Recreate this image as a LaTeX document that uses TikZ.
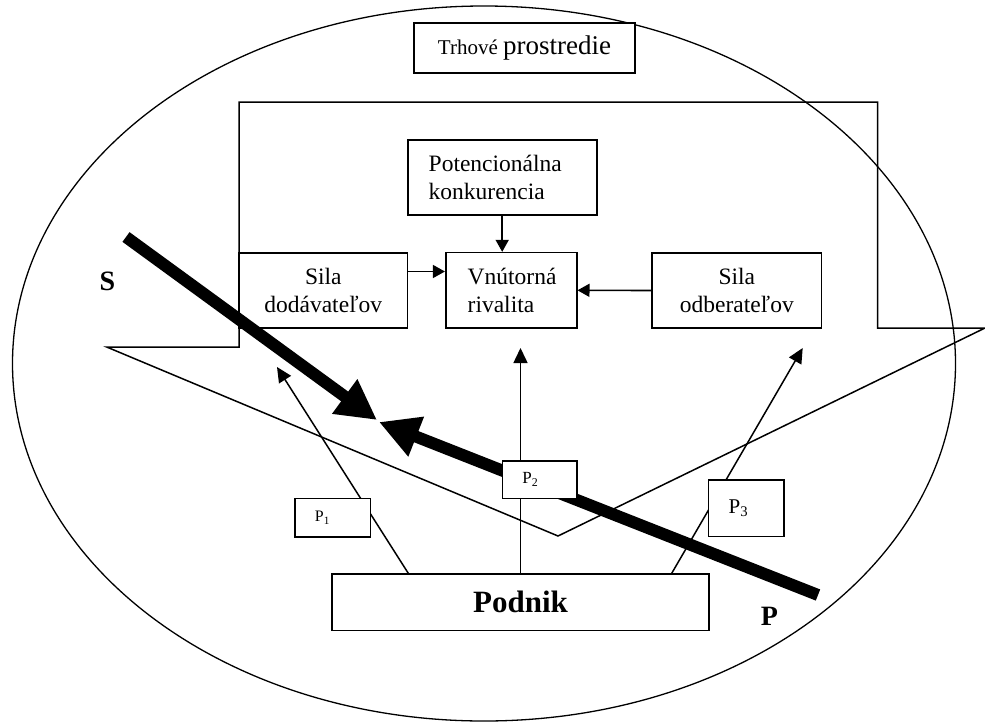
\documentclass[tikz,border=0pt]{standalone}
\usepackage{fontspec}
\setmainfont{Liberation Serif}
\usetikzlibrary{arrows.meta, positioning, calc}

\begin{document}
\begin{tikzpicture}[x=1pt, y=-1pt,
  box/.style={draw, line width=1.6pt, fill=white, inner sep=0pt, font=\fontsize{23.5}{27.5}\selectfont},
  pbox/.style={draw, line width=1.6pt, fill=white, inner ysep=0pt, inner xsep=20pt, align=left},
  parrow/.style={line width=1.5pt, -{Triangle[length=15pt, width=14pt]}},
  link/.style={line width=1.6pt, -{Triangle[length=12pt, width=13pt]}},
  force/.style={line width=12pt, -{Triangle[length=40pt, width=40pt]}},
  lbl/.style={font=\bfseries\fontsize{28}{28}\selectfont, inner sep=0pt}]
  \useasboundingbox (0,0) rectangle (985,723);

  \draw[line width=1.3pt] (484,363.5) ellipse [x radius=471.5pt, y radius=357.5pt];
  \draw[line width=1.5pt] (239,102) -- (877.7,102) -- (877.7,328) -- (985,328)
    -- (558,536) -- (106.7,347) -- (239,347) -- cycle;

  \node[box, minimum width=221pt, minimum height=50pt] (trh) at (524.5,47.7)
    {\fontsize{21}{21}\selectfont Trhové \fontsize{27}{27}\selectfont prostredie};

  \node[box, minimum height=75pt, inner xsep=21pt, text width=147pt, align=left] (pot) at (502.2,177.5)
    {Potencionálna\\konkurencia};
  \node[box, minimum width=168.7pt, minimum height=75pt, align=center] (sdod) at (323.3,290.5)
    {Sila\\dodávateľov};
  \node[box, minimum height=75.3pt, inner xsep=22pt, text width=87pt, align=left] (vnu) at (511.2,290.3)
    {Vnútorná\\rivalita};
  \node[box, minimum width=169.7pt, minimum height=75pt, align=center] (sodb) at (736.8,290.5)
    {Sila\\odberateľov};

  \draw[link] (pot.south) -- (pot.south |- vnu.north);
  \coordinate (sd) at ([yshift=19pt]sdod.east);
  \draw[link] (sd) -- (sd -| vnu.west);
  \draw[link] (sodb.west) -- (vnu.east);

  \node[box, minimum width=377pt, minimum height=56.7pt, font=\bfseries\fontsize{31}{31}\selectfont] (podnik) at (520.5,602.3) {Podnik};

  \coordinate (t1) at (277,367);
  \coordinate (t2) at (520.5,348);
  \coordinate (t3) at (802.7,348);
  \draw[parrow] ([xshift=77pt]podnik.north west) -- (t1);
  \draw[parrow] (podnik.north) -- (t2);
  \draw[parrow] ([xshift=-38pt]podnik.north east) -- (t3);

  % supplier and buyer pressure
  \coordinate (s0) at (126,237);
  \coordinate (s1) at (377,420);
  \coordinate (p0) at (818,595);
  \coordinate (p1) at (379,422);
  \draw[force] (s0) -- (s1);
  \draw[force] (p0) -- (p1);

  \node[pbox, minimum height=38.4pt, text width=35.7pt, font=\fontsize{16}{16}\selectfont] (pp1) at (332.8,517.5) {P\textsubscript{1}};
  \node[pbox, minimum height=37.3pt, text width=34.4pt, font=\fontsize{17}{17}\selectfont] (pp2) at (539.5,479.7) {P\textsubscript{2}};
  \node[pbox, minimum height=56.7pt, text width=35.3pt, font=\fontsize{21}{21}\selectfont] (pp3) at (746.3,508.3) {P\textsubscript{3}};

  \node[lbl] (slbl) at (107.5,281) {S};
  \node[lbl] (plbl) at (769.5,616) {P};
\end{tikzpicture}
\end{document}
